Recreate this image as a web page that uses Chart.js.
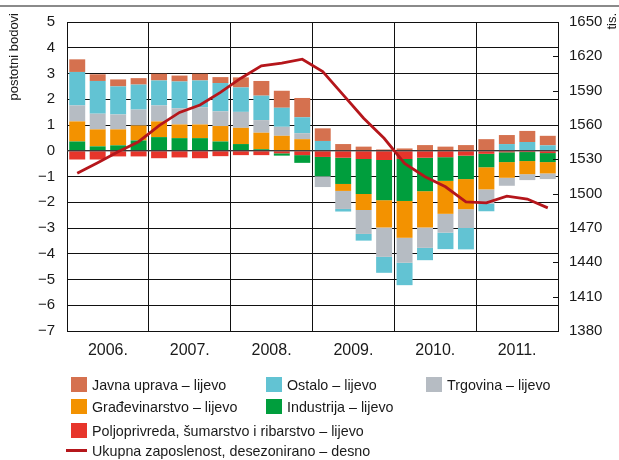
<!DOCTYPE html>
<html lang="hr">
<head>
    <meta charset="UTF-8">
    <title>Zaposlenost po djelatnostima</title>
    <script src="https://cdn.jsdelivr.net/npm/chart.js@4.4.1/dist/chart.umd.min.js"></script>
    <style>
        body {
            margin: 0;
            background: #fff;
            font-family: 'Liberation Sans Narrow', 'Arial Narrow', 'Liberation Sans', sans-serif;
            color: #1a1a1a;
        }

        .wrap {
            position: relative;
            width: 619px;
            height: 460px;
        }

        .topline {
            position: absolute;
            left: 0;
            top: 5px;
            width: 619px;
            height: 2px;
            background: #8a8a8a;
        }

        .legend div {
            position: absolute;
            font-size: 14.3px;
            white-space: nowrap;
            line-height: 16px;
        }

        .legend span.box {
            position: absolute;
            width: 16px;
            height: 15px;
            left: 0;
            top: 0;
        }

        .legend span.ln {
            position: absolute;
            width: 21px;
            height: 3px;
            left: -5px;
            top: 6px;
            background: #b5161b;
        }

        .legend span.txt {
            position: absolute;
            left: 21px;
            top: 0;
        }
    </style>
</head>
<body>
<div class="wrap">
    <canvas id="chart" width="619" height="460"></canvas>
    <div class="topline"></div>
    <div class="legend" id="legend"></div>
</div>

<script>
    // categories (quarters) and year labels
    const quarters = [
        'I.06', 'II.06', 'III.06', 'IV.06',
        'I.07', 'II.07', 'III.07', 'IV.07',
        'I.08', 'II.08', 'III.08', 'IV.08',
        'I.09', 'II.09', 'III.09', 'IV.09',
        'I.10', 'II.10', 'III.10', 'IV.10',
        'I.11', 'II.11', 'III.11', 'IV.11'
    ];
    const years = ['2006.', '2007.', '2008.', '2009.', '2010.', '2011.'];

    // contributions, percentage points (left axis)
    const poljoprivreda = [-0.34, -0.34, -0.22, -0.22, -0.29, -0.26, -0.29, -0.21, -0.17, -0.17, -0.10, -0.17,
        -0.24, -0.27, -0.32, -0.36, -0.32, -0.27, -0.25, -0.19, -0.12, -0.06, -0.05, -0.09];
    const industrija = [0.36, 0.17, 0.21, 0.40, 0.53, 0.49, 0.49, 0.36, 0.26, 0.06, -0.09, -0.30,
        -0.75, -1.02, -1.36, -1.56, -1.63, -1.30, -0.92, -0.91, -0.52, -0.38, -0.35, -0.35];
    const gradjevinarstvo = [0.78, 0.66, 0.62, 0.58, 0.61, 0.53, 0.53, 0.60, 0.63, 0.64, 0.58, 0.45,
        0, -0.27, -0.62, -1.06, -1.43, -1.41, -1.28, -1.17, -0.86, -0.61, -0.51, -0.44];
    const trgovina = [0.62, 0.61, 0.58, 0.62, 0.62, 0.63, 0.67, 0.57, 0.62, 0.49, 0.35, 0.23,
        -0.42, -0.70, -0.93, -1.14, -0.97, -0.79, -0.73, -0.73, -0.56, -0.31, -0.23, -0.22];
    const ostalo = [1.30, 1.27, 1.09, 0.97, 0.97, 1.04, 1.04, 1.10, 0.95, 0.95, 0.74, 0.62,
        0.38, -0.10, -0.26, -0.62, -0.87, -0.48, -0.64, -0.83, -0.29, 0.26, 0.34, 0.21];
    const javnaUprava = [0.49, 0.26, 0.27, 0.25, 0.26, 0.23, 0.26, 0.23, 0.39, 0.57, 0.66, 0.75,
        0.49, 0.26, 0.16, 0.05, 0.09, 0.22, 0.16, 0.22, 0.45, 0.35, 0.43, 0.37];

    // total employment, thousands (right axis)
    const ukupno = [1517.8, 1527.0, 1536.7, 1545.4, 1559.5, 1571.0, 1577.5, 1588.5, 1600.9, 1611.7, 1614.0, 1617.5,
        1606.7, 1586.3, 1565.9, 1548.4, 1526.5, 1514.8, 1506.0, 1492.9, 1492.0, 1497.9, 1495.3, 1487.6];

    const FONT = "'Liberation Sans Narrow', 'Arial Narrow', 'Liberation Sans', sans-serif";
    const TXT = '#1a1a1a';

    const series = [
        { label: 'Poljoprivreda, šumarstvo i ribarstvo – lijevo', data: poljoprivreda, color: '#e7352b' },
        { label: 'Industrija – lijevo', data: industrija, color: '#009e3d' },
        { label: 'Građevinarstvo – lijevo', data: gradjevinarstvo, color: '#f39200' },
        { label: 'Trgovina – lijevo', data: trgovina, color: '#b6bcc3' },
        { label: 'Ostalo – lijevo', data: ostalo, color: '#62c3d3' },
        { label: 'Javna uprava – lijevo', data: javnaUprava, color: '#d5714f' }
    ];

    const datasets = [{
        type: 'line',
        label: 'Ukupna zaposlenost, desezonirano – desno',
        data: ukupno,
        yAxisID: 'y1',
        borderColor: '#b5161b',
        borderWidth: 2.8,
        pointRadius: 0,
        tension: 0,
        fill: false,
        order: 0
    }];
    series.forEach(s => {
        datasets.push({
            type: 'bar',
            label: s.label,
            data: s.data,
            yAxisID: 'y',
            backgroundColor: s.color,
            borderWidth: 0,
            barPercentage: 0.78,
            categoryPercentage: 1.0,
            order: 1
        });
    });

    // extra drawing: axis titles, inner ticks of right axis, zero line
    const extras = {
        id: 'extras',
        beforeDatasetDraw(chart, args) {
            if (args.index !== 0) return;
            const ctx = chart.ctx;
            const y = chart.scales.y.getPixelForValue(0);
            ctx.save();
            ctx.strokeStyle = 'rgba(70,70,70,0.75)';
            ctx.lineWidth = 1.5;
            ctx.beginPath();
            ctx.moveTo(chart.chartArea.left, y);
            ctx.lineTo(chart.chartArea.right, y);
            ctx.stroke();
            ctx.restore();
        },
        afterDraw(chart) {
            const ctx = chart.ctx;
            const area = chart.chartArea;
            const r = chart.scales.y1;
            ctx.save();
            ctx.strokeStyle = '#111';
            ctx.lineWidth = 1;
            r.ticks.forEach(t => {
                const y = Math.round(r.getPixelForValue(t.value)) + 0.5;
                ctx.beginPath();
                ctx.moveTo(area.right - 5, y);
                ctx.lineTo(area.right, y);
                ctx.stroke();
            });

            ctx.fillStyle = TXT;
            ctx.font = '13px ' + FONT;
            ctx.textBaseline = 'middle';
            ctx.textAlign = 'right';
            ctx.translate(14, 13);
            ctx.rotate(-Math.PI / 2);
            ctx.fillText('postotni bodovi', 0, 0);
            ctx.restore();

            ctx.save();
            ctx.fillStyle = TXT;
            ctx.font = '13px ' + FONT;
            ctx.textBaseline = 'middle';
            ctx.textAlign = 'right';
            ctx.translate(612, 13);
            ctx.rotate(-Math.PI / 2);
            ctx.fillText('tis.', 0, 0);
            ctx.restore();
        }
    };

    const ctx = document.getElementById('chart').getContext('2d');
    const chart = new Chart(ctx, {
        data: { labels: quarters, datasets: datasets },
        plugins: [extras],
        options: {
            responsive: false,
            animation: false,
            devicePixelRatio: 1,
            layout: { padding: { top: 22, left: 0, right: 0, bottom: 0 } },
            plugins: {
                legend: { display: false },
                tooltip: { enabled: false }
            },
            scales: {
                x: {
                    stacked: true,
                    offset: true,
                    afterFit: s => { s.height = 129; },
                    grid: {
                        offset: true,
                        drawTicks: false,
                        lineWidth: 1,
                        color: c => (c.index % 4 === 0 ? '#111' : 'rgba(0,0,0,0)')
                    },
                    border: { display: true, color: '#111', width: 1 },
                    ticks: {
                        autoSkip: false,
                        maxRotation: 0,
                        padding: 10,
                        labelOffset: 10.24,
                        color: TXT,
                        font: { family: FONT, size: 16 },
                        callback: (v, i) => (i % 4 === 1 ? years[(i / 4) | 0] : '')
                    }
                },
                y: {
                    stacked: true,
                    position: 'left',
                    min: -7,
                    max: 5,
                    afterFit: s => { s.width = 67; },
                    grid: { color: '#111', lineWidth: 1, drawTicks: false },
                    border: { display: true, color: '#111', width: 1 },
                    ticks: {
                        stepSize: 1,
                        padding: 12,
                        color: TXT,
                        font: { family: FONT, size: 15 },
                        callback: v => String(v).replace('-', '\u2212')
                    }
                },
                y1: {
                    stacked: false,
                    position: 'right',
                    min: 1380,
                    max: 1650,
                    afterFit: s => { s.width = 61; },
                    grid: { drawOnChartArea: false, drawTicks: false },
                    border: { display: true, color: '#111', width: 1 },
                    ticks: {
                        stepSize: 30,
                        padding: 11,
                        color: TXT,
                        font: { family: FONT, size: 15 },
                        callback: v => String(v)
                    }
                }
            }
        }
    });

    // legend laid out like the original (three columns, four rows)
    const legendItems = [
        { text: 'Javna uprava – lijevo', color: '#d5714f', x: 71, y: 377 },
        { text: 'Ostalo – lijevo', color: '#62c3d3', x: 266, y: 377 },
        { text: 'Trgovina – lijevo', color: '#b6bcc3', x: 426, y: 377 },
        { text: 'Građevinarstvo – lijevo', color: '#f39200', x: 71, y: 399 },
        { text: 'Industrija – lijevo', color: '#009e3d', x: 266, y: 399 },
        { text: 'Poljoprivreda, šumarstvo i ribarstvo – lijevo', color: '#e7352b', x: 71, y: 423 },
        { text: 'Ukupna zaposlenost, desezonirano – desno', line: true, x: 71, y: 443 }
    ];
    const legend = document.getElementById('legend');
    legendItems.forEach(it => {
        const d = document.createElement('div');
        d.style.left = it.x + 'px';
        d.style.top = it.y + 'px';
        const mark = document.createElement('span');
        if (it.line) {
            mark.className = 'ln';
        } else {
            mark.className = 'box';
            mark.style.background = it.color;
        }
        const t = document.createElement('span');
        t.className = 'txt';
        t.textContent = it.text;
        d.appendChild(mark);
        d.appendChild(t);
        legend.appendChild(d);
    });
</script>
</body>
</html>
